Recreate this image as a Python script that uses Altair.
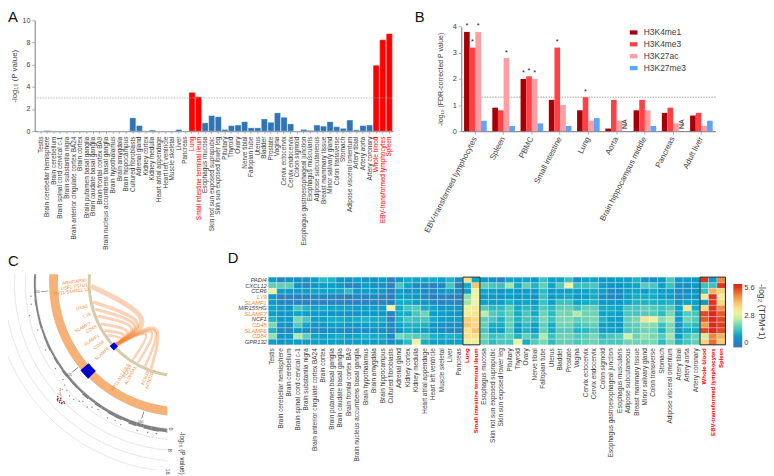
import math
import altair as alt
import pandas as pd

FONT = "Liberation Sans"
INK = "#3c3c3c"

tissues = ["Testis", "Brain cerebellar hemisphere", "Brain cerebellum", "Brain spinal cord cervical c-1",
           "Brain substantia nigra", "Brain anterior cingulate cortex BA24", "Brain cortex",
           "Brain putamen basal ganglia", "Brain caudate basal ganglia", "Brain frontal cortex BA9",
           "Brain nucleus accumbens basal ganglia", "Brain hypothalamus", "Brain amygdala", "Brain hippocampus",
           "Cultured fibroblasts", "Adrenal gland", "Kidney cortex", "Kidney medulla", "Heart atrial appendage",
           "Heart left ventricle", "Muscle skeletal", "Liver", "Pancreas", "Lung", "Small intestine terminal ileum",
           "Esophagus mucosa", "Skin not sun exposed suprapubic", "Skin sun exposed lower leg", "Pituitary", "Thyroid",
           "Ovary", "Nerve tibial", "Fallopian tube", "Uterus", "Bladder", "Prostate", "Vagina", "Cervix ectocervix",
           "Cervix endocervix", "Colon sigmoid", "Esophagus gastroesophageal junction", "Esophagus muscularis",
           "Adipose subcutaneous", "Breast mammary tissue", "Minor salivary gland", "Colon transverse", "Stomach",
           "Adipose visceral omentum", "Artery tibial", "Artery aorta", "Artery coronary", "Whole blood",
           "EBV-transformed lymphocytes", "Spleen"]
pvals = [0.0, 0.05, 0.02, 0.02, 0.02, 0.02, 0.02, 0.02, 0.02, 0.02, 0.02, 0.02, 0.02, 0.02,
         1.2, 0.5, 0.03, 0.1, 0.02, 0.02, 0.02, 0.15, 0.02, 3.5, 3.1,
         0.75, 1.4, 1.3, 0.15, 0.5, 0.55, 0.85, 0.3, 0.3, 1.1, 0.8, 1.65, 1.25, 0.65, 0.02, 0.15, 0.07,
         0.55, 0.45, 0.85, 0.4, 0.25, 1.0, 0.12, 0.5, 0.55, 5.95, 8.25, 8.8]
red_tissues = ["Lung", "Small intestine terminal ileum", "Whole blood", "EBV-transformed lymphocytes", "Spleen"]

b_groups = ["EBV-transformed lymphocytes", "Spleen", "PBMC", "Small intestine", "Lung", "Aorta",
            "Brain hippocampus middle", "Pancreas", "Adult liver"]
b_marks = ["H3K4me1", "H3K4me3", "H3K27ac", "H3K27me3"]
b_colors = ["#A50008", "#FF4045", "#FF9EA2", "#5AA5FF"]
b_me1 = [3.8, 0.9, 2.0, 1.2, 0.8, 0.1, 0.8, 0.7, 0.6]
b_me3 = [3.2, 0.8, 2.1, 3.2, 1.3, 1.2, 1.2, 0.9, 0.7]
b_ac = [3.8, 2.8, 2.0, 1.0, 0.4, 0.4, 0.8, 0.3, 0.2]
b_me27 = [0.4, 0.2, 0.3, 0.2, 0.5, None, 0.2, None, 0.4]
b_sig = [("EBV-transformed lymphocytes", "H3K4me1"), ("EBV-transformed lymphocytes", "H3K4me3"),
         ("EBV-transformed lymphocytes", "H3K27ac"), ("Spleen", "H3K27ac"), ("PBMC", "H3K4me1"),
         ("PBMC", "H3K4me3"), ("PBMC", "H3K27ac"), ("Small intestine", "H3K4me3"), ("Lung", "H3K4me3")]

genes = ["PADI4", "CXCL12", "CCR6", "LY9", "SLAMF1", "MIR155HG", "SLAMF7", "NCF1", "CD48", "SLAMF6", "CD84", "GPR132"]
orange_genes = ["LY9", "SLAMF1", "SLAMF7", "CD48", "SLAMF6", "CD84"]
h_padi4 = [1.0, .6, .8, .7, .8, 1.0, 1.4, 1.3, .8, .8, 1.0, .8, .8, 1.0, .5, .9, 1.2, 1.1, 1.1, 1.2, 1.0, 1.3, .8, 3.5, 1.1,
           .9, .8, .5, 1.1, 1.0, 1.1, .9, 1.5, 1.0, 1.1, 1.5, .7, 1.1, 1.1, .9, .9, 1.0, 1.0, 1.3, .8, .7, .9, 1.6, .9, 1.0, .9, 5.4, .9, 4.6]
h_cxcl12 = [1.8, 1.8, 1.8, .8, .6, .9, 1.0, 1.0, .9, .6, .6, 1.0, .8, .8, .5, 1.6, 1.1, .7, .6, .5, .6, 1.6, .5, 1.2, 3.9,
            1.8, 1.6, 1.5, 2.3, 1.2, 1.8, 1.3, 1.8, 1.1, 1.7, 2.9, 1.5, 1.5, 1.6, 1.0, .8, .8, 1.0, 1.1, 1.7, 1.6, 1.0, 1.5, .8, .7, .9, 1.5, 1.5, 5.4]
h_ccr6 = [2.9, 1.0, .9, 1.0, 1.0, 1.1, 1.1, 1.1, 1.1, 1.4, .9, 1.0, 1.0, .9, .5, 1.0, .8, .9, .7, .6, .9, 1.0, .7, 1.0, 2.9,
          1.1, 1.0, .8, 1.0, .9, 1.0, .9, 1.4, .9, 1.0, 1.0, 1.0, 1.1, 1.2, 1.0, .7, .7, 1.0, 1.1, .9, 1.2, 1.0, 1.0, .7, .7, .8, 1.5, 4.2, 3.7]
h_ly9 = [.9, .5, .5, .5, .5, .6, .6, .5, .5, .4, .6, .5, .6, .5, .4, 1.0, 1.0, .9, .6, .4, .5, .5, .5, 2.2, 2.9,
         .9, .9, .9, 1.0, .9, 1.0, .8, 1.5, .9, 1.1, 1.2, .9, 1.0, 1.2, .8, .6, .6, 1.0, 1.2, 1.2, 1.2, 1.0, 1.0, .6, .8, .9, 3.2, 5.4, 3.0]
h_slamf1 = [.9, .5, .5, .5, .5, .5, .5, .5, .5, .5, .5, .5, .5, .5, .4, 1.2, 1.2, 1.0, .8, .6, .5, .6, .5, 2.3, 2.9,
            1.0, 1.0, 1.0, 1.3, 1.0, 1.1, .9, 1.5, 1.0, 1.5, 1.5, 1.1, 1.2, 1.3, .9, .9, .9, 1.1, 1.3, 1.3, 1.3, 1.2, 1.3, .8, 1.1, 1.0, .9, 5.4, 3.6]
h_mir155 = [1.1, 1.0, .9, 1.6, 1.3, 1.1, 1.2, 1.1, 1.1, 1.1, 1.0, 1.0, 1.0, 1.0, 2.9, 1.2, 1.6, 1.7, 1.2, 1.1, .9, 1.0, .9, 3.0, 3.2,
            1.7, 1.4, 1.4, 1.8, 1.2, 1.4, 1.2, 1.7, 1.4, 1.8, 1.8, 1.5, 1.8, 1.8, 1.2, 1.2, 1.1, 1.6, 1.6, 1.8, 1.7, 1.5, 1.7, 1.1, 3.3, 1.2, 3.6, 5.4, 4.5]
h_slamf7 = [1.0, .8, .8, 1.1, 1.0, .9, .9, .8, .8, .8, .8, .9, .9, .9, .5, 1.2, 1.2, 1.6, 1.9, 1.0, 1.0, .9, .8, 3.0, 3.3,
            2.5, 1.7, 1.5, 1.8, 1.2, 1.6, 1.2, 1.9, 1.4, 2.0, 1.9, 2.4, 1.9, 1.9, 1.1, 1.1, 1.0, 1.6, 1.6, 1.7, 1.7, 1.4, 2.0, 1.0, 1.7, 1.6, 5.2, 5.5, 5.0]
h_ncf1 = [1.3, .9, .9, 2.0, 1.6, 1.0, 1.0, 1.2, 1.2, 1.1, 1.2, 1.3, 1.2, 1.2, .5, 1.3, 1.6, 1.5, 1.6, 1.2, 1.0, 1.0, 1.0, 3.8, 3.6,
          1.8, 1.6, 1.3, 1.8, 1.3, 1.6, 1.4, 2.0, 1.5, 2.0, 2.0, 1.8, 1.9, 2.0, 1.3, 1.0, 1.0, 1.8, 2.0, 3.4, 3.0, 2.1, 2.4, 1.0, 1.9, 1.7, 5.0, 5.5, 5.2]
h_cd48 = [2.0, .8, .8, 1.7, 1.1, .8, .9, 1.0, 1.0, .9, .9, 1.0, 1.0, 1.0, .6, 1.1, 1.3, 1.3, 1.3, .9, .8, .7, .7, 3.9, 3.6,
          1.8, 1.2, 1.2, 1.8, 1.0, 1.4, 1.0, 1.8, 1.2, 1.9, 1.9, 1.5, 1.7, 1.8, 1.0, 1.0, .9, 1.7, 1.8, 2.1, 2.1, 1.5, 2.0, .9, 1.5, 1.4, 4.4, 5.5, 5.3]
h_slamf6 = [1.3, .6, .6, .9, .7, .6, .6, .7, .7, .6, .7, .7, .7, .7, .5, .8, 1.2, 1.1, 1.0, .8, .7, .6, .6, 3.4, 3.9,
            1.6, 1.1, 1.0, 1.7, .9, 1.3, .9, 1.8, 1.2, 1.7, 1.7, 1.3, 1.4, 1.6, 1.0, 1.0, .9, 1.6, 1.7, 1.9, 1.9, 1.3, 2.0, .9, 1.2, 1.2, 5.2, 5.5, 5.2]
h_cd84 = [2.2, .9, .9, 2.4, 1.8, 1.1, 1.0, 1.1, 1.2, 1.0, 1.1, 1.3, 1.2, 1.2, .7, 2.0, 1.8, 1.7, 1.6, 1.3, 1.2, 1.3, 1.2, 3.5, 3.4,
          1.9, 1.5, 1.6, 1.8, 1.3, 1.8, 1.4, 2.4, 1.5, 1.9, 1.9, 1.7, 1.8, 2.0, 1.4, 1.6, 1.7, 2.6, 1.9, 2.2, 2.0, 1.7, 2.3, 1.0, 1.6, 1.9, 2.6, 4.6, 4.2]
h_gpr132 = [1.0, .8, .9, 1.0, 1.0, 1.0, 1.0, 1.0, 1.0, 1.0, 1.0, 1.0, 1.0, 1.0, .7, 1.0, 1.4, 2.9, 1.2, 1.0, 1.0, 1.0, 1.0, 3.0, 3.0,
            1.8, 1.4, 1.6, 1.6, 2.9, 1.2, 1.7, 2.0, 1.4, 1.8, 1.8, 1.6, 1.8, 1.9, 1.6, 1.6, 1.6, 1.9, 1.9, 1.9, 2.0, 1.4, 2.0, 1.3, 1.6, 1.8, 3.7, 4.8, 3.8]
heat_rows = [h_padi4, h_cxcl12, h_ccr6, h_ly9, h_slamf1, h_mir155, h_slamf7, h_ncf1, h_cd48, h_slamf6, h_cd84, h_gpr132]
heat_stops = [0, 0.5, 1.0, 1.5, 2.0, 2.8, 3.5, 4.2, 4.9, 5.6]
heat_colors = ["#3473B8", "#2A82C0", "#0E9FC6", "#3CC0C0", "#7BD6B2", "#EBF6A6", "#FBDF8B", "#F3B25C", "#E8622C", "#D7191C"]
box_start = [23, 51]
box_end = [25, 54]

# panel C: polar positions in degrees clockwise from twelve o'clock, radii in pixels
band_theta = list(range(180, 282, 3))
band_height = [1.2, 1.5, 1.3, 1.5, 1.4, 1.2, 1.5, 1.1, 1.3, 1.2, 1.0, 1.1, .9, 1.2, .9, 1.0, .9, 1.0, .8, .9,
               .7, .9, .8, .7, .8, .7, .7, .8, .7, .7, .7, .7, .7, .7]
dot_theta = [189.7, 193, 197, 203.4, 206, 209, 213.6, 216, 217.5, 220, 221, 223, 225, 227, 229, 231, 236, 244, 252, 258, 262, 265]
dot_value = [2.3, 2.5, 2.8, 3.0, 2.4, 2.9, 2.1, 2.6, 3.6, 3.0, 3.8, 4.7, 4.9, 4.2, 3.4, 2.6, 2.4, 2.2, 2.0, 3.6, 2.2, 2.0]
red_theta = [224.5, 225.2, 225.7, 226.2, 226.6, 227.1, 227.6, 225.0, 226.0, 227.0, 224.9, 226.4]
red_value = [8.2, 8.6, 9.3, 8.9, 9.4, 8.7, 8.3, 9.0, 8.4, 9.1, 7.9, 8.0]
tan_theta = [226.6, 227.3, 228, 228.6, 229, 227.9, 228.4]
tan_value = [7.6, 7.0, 6.6, 6.1, 5.6, 7.3, 5.2]
grid_values = [0, 4, 8, 12, 16]
axis_text = ["0", "8", "16"]
axis_values = [0, 8, 16]
ring_label = ["150", "155", "160"]
ring_theta = [266.6, 231.0, 196.6]

gene_text = ["ARHGAP30", "USF1  TSTD1", "RP11-544M22.13", "ITLN1", "LY9", "SLAMF7", "CD48", "SLAMF1", "CD84", "SLAMF6",
             "RP11-312J18.5", "PEA15", "ALDH9A1", "KCNJ9", "KCNJ10"]
gene_theta = [270.5, 267.9, 265.4, 256.1, 251.0, 245.8, 242.9, 237.5, 233.1, 228.4, 212.9, 211.7, 209.0, 201.0, 198.4]
gene_radius = [109, 109, 112, 104, 101.5, 110, 103, 108, 105, 108, 114, 105, 107, 103, 104]
gene_angle = [352, 352, 352, 343, 338, 333, 330, 327, 322, 318, 302, 300, 300, 292, 290]

link_end = [268, 258, 253.4, 248.8, 243.4, 238.6, 235, 212.8, 209, 204, 200]
link_ctrl_theta = [210.7, 216.6, 219.7, 222.2, 224.4, 225.6, 225.5, 211.8, 206.6, 204.6, 206.6]
link_ctrl_radius = [43, 48.6, 53, 58, 65.8, 73, 78.5, 49.4, 42.5, 38.5, 35.8]
link_width = [5.0, 3.5, 3.0, 3.0, 3.0, 3.0, 2.5, 2.5, 2.5, 2.5, 3.0]
TARGET_THETA, TARGET_R = 227.2, 93

C_W, C_H, CX, CY = 161, 198, 176, 9
A_LEFT, A_W = 27, 389


def letter(text, x, y):
    return alt.Chart(pd.DataFrame({"t": [text]})).mark_text(
        font=FONT, fontSize=15, align="left", baseline="top", color="#111"
    ).encode(text="t:N", x=alt.value(x), y=alt.value(y))


red_json = str(red_tissues)
red_test = f"indexof({red_json}, datum.value) >= 0"
label_red = {"condition": {"test": red_test, "value": "#FF0000"}, "value": INK}

# ---------- A
A_TITLE = "-log₁₀ (P value)"
df_a = pd.DataFrame({"tissue": tissues, "p": pvals})
df_a["hl"] = ["red" if t in red_tissues else "blue" for t in tissues]
axis_y_a = alt.Axis(values=[0, 2, 4, 6, 8, 10], grid=False, labelFont=FONT, labelFontSize=7, labelColor=INK,
                    labelOverlap=False, labelSeparation=0, offset=-A_LEFT,
                    domainColor="#8f8f8f", domainWidth=1.2, tickColor="#777", tickSize=3, tickWidth=0.6,
                    titleFont=FONT, titleFontSize=8, titleFontWeight="normal", titleColor=INK, titlePadding=4)
bars_a = alt.Chart(df_a).mark_bar(stroke="#ffffff", strokeWidth=0.3).encode(
    x=alt.X("tissue:N", sort=tissues, title=None,
            scale=alt.Scale(range=[A_LEFT, A_W], paddingInner=0.08, paddingOuter=0.27, align=0.83),
            axis=alt.Axis(labelAngle=-90, labelFont=FONT, labelFontSize=6.5, labelColor=label_red, labelLimit=200,
                          labelOverlap=False, domainColor="#8f8f8f", domainWidth=1.2, tickColor="#777", tickSize=2,
                          tickWidth=0.6, labelPadding=3)),
    y=alt.Y("p:Q", scale=alt.Scale(domain=[0, 10], nice=False), title=A_TITLE, axis=axis_y_a),
    color=alt.Color("hl:N", scale=alt.Scale(domain=["blue", "red"], range=["#2F74B5", "#FF0000"]), legend=None),
)
rule_a = alt.Chart(pd.DataFrame({"t": [3]})).mark_rule(color="#9a9a9a", strokeDash=[1.5, 1.2], strokeWidth=0.7).encode(
    y=alt.Y("t:Q", scale=alt.Scale(domain=[0, 10], nice=False), title=A_TITLE, axis=axis_y_a),
    x=alt.value(A_LEFT), x2=alt.value(A_W))
panel_a = alt.layer(bars_a, rule_a, letter("A", 0, -10)).properties(width=A_W, height=112)

# ---------- B
B_TITLE = "-log₁₀ (FDR-corrected P value)"
rows_b = []
for g, a, b, c, d in zip(b_groups, b_me1, b_me3, b_ac, b_me27):
    for m, v in zip(b_marks, (a, b, c, d)):
        rows_b.append({"group": g, "mark": m, "v": v, "sig": (g, m) in b_sig, "na": v is None})
df_b = pd.DataFrame(rows_b)
x_b = alt.X("group:N", sort=b_groups, title=None,
            scale=alt.Scale(paddingInner=0.2, paddingOuter=0.1),
            axis=alt.Axis(labelAngle=-63, labelFont=FONT, labelFontSize=8, labelColor=INK, labelLimit=250,
                          labelOverlap=False, domainColor="#8f8f8f", domainWidth=1.2, tickColor="#777", tickSize=3,
                          tickWidth=0.6, labelPadding=3))
off_b = alt.XOffset("mark:N", sort=b_marks)
y_scale_b = alt.Scale(domain=[0, 4], range=[112, 6.4], nice=False)
axis_y_b = alt.Axis(values=[0, 1, 2, 3, 4], grid=False, labelFont=FONT, labelFontSize=7.5, labelColor=INK,
                    labelOverlap=False, labelSeparation=0,
                    domainColor="#8f8f8f", domainWidth=1.2, tickColor="#777", tickSize=3, tickWidth=0.6,
                    titleFont=FONT, titleFontSize=7, titleFontWeight="normal", titleColor=INK, titlePadding=9)
rule_b = alt.Chart(pd.DataFrame({"t": [1.3]})).mark_rule(color="#777", strokeDash=[1.5, 1.2], strokeWidth=0.7).encode(
    y=alt.Y("t:Q", scale=y_scale_b, title=B_TITLE, axis=axis_y_b))
bars_b = alt.Chart(df_b[~df_b["na"]]).mark_bar().encode(
    x=x_b, xOffset=off_b,
    y=alt.Y("v:Q", scale=y_scale_b, title=B_TITLE, axis=axis_y_b),
    color=alt.Color("mark:N", sort=b_marks, scale=alt.Scale(domain=b_marks, range=b_colors),
                    legend=alt.Legend(title=None, orient="none", legendX=170, legendY=8, symbolType="M-1,-0.55H1V0.55H-1Z",
                                      symbolSize=60, symbolStrokeWidth=0, labelFont=FONT, labelFontSize=8.5, labelColor=INK,
                                      rowPadding=3, labelOffset=6)),
)
stars_b = alt.Chart(df_b[df_b["sig"]]).mark_text(text="*", font=FONT, fontSize=7.5, color="#222", dy=-1.5, baseline="bottom").encode(
    x=x_b, xOffset=off_b, y=alt.Y("v:Q", scale=y_scale_b, title=B_TITLE, axis=axis_y_b))
na_df = df_b[df_b["na"]].assign(pos=0.27, label="NA")
na_b = alt.Chart(na_df).mark_text(font=FONT, fontSize=7, angle=270, color="#222").encode(
    x=x_b, xOffset=off_b, y=alt.Y("pos:Q", scale=y_scale_b, title=B_TITLE, axis=axis_y_b), text="label:N")
panel_b = alt.layer(rule_b, bars_b, stars_b, na_b, letter("B", -47, -10)).properties(width=257, height=112)

# ---------- C
theta_scale = alt.Scale(domain=[0, 360], range=[0, 2 * math.pi])
px_scale = alt.Scale(type="linear", domain=[0, 200], range=[0, 200])
val_scale = alt.Scale(type="linear", domain=[0, 16], range=[148, 191])
cx, cy = alt.value(CX), alt.value(CY)


def arc_layer(df, color, scale, **mark):
    return alt.Chart(df).mark_arc(clip=True, color=color, **mark).encode(
        x=cx, y=cy,
        theta=alt.Theta("t0:Q", scale=theta_scale, stack=None), theta2="t1:Q",
        radius=alt.Radius("r0:Q", scale=scale), radius2="r1:Q")


grid_df = pd.DataFrame({"t0": [170] * 5, "t1": [290] * 5, "r0": grid_values, "r1": grid_values})
grid_c = alt.Chart(grid_df).mark_arc(clip=True, fillOpacity=0, stroke="#e2e2e2", strokeWidth=0.5).encode(
    x=cx, y=cy,
    theta=alt.Theta("t0:Q", scale=theta_scale, stack=None), theta2="t1:Q",
    radius=alt.Radius("r0:Q", scale=val_scale), radius2="r1:Q")
ring_o = arc_layer(pd.DataFrame({"t0": [170], "t1": [290], "r0": [125.5], "r1": [134.5]}), "#F4B278", px_scale)
ring_i = arc_layer(pd.DataFrame({"t0": [170], "t1": [290], "r0": [92.5], "r1": [95.5]}), "#D8CBA8", px_scale)
blue_o = arc_layer(pd.DataFrame({"t0": [224.5], "t1": [229.4], "r0": [124.5], "r1": [135.5]}), "#0000CC", px_scale)
blue_i = arc_layer(pd.DataFrame({"t0": [225.4], "t1": [229.0], "r0": [91], "r1": [97]}), "#0000CC", px_scale)
band_df = pd.DataFrame({"t0": band_theta, "t1": [t + 3 for t in band_theta], "r0": [0] * len(band_theta), "r1": band_height})
band_c = arc_layer(band_df, "#6a6a6a", val_scale, opacity=0.85)
tick_df = pd.DataFrame({"t0": [t - 0.12 for t in ring_theta], "t1": [t + 0.12 for t in ring_theta],
                        "r0": [135.5] * 3, "r1": [143] * 3})
tick_c = arc_layer(tick_df, "#555555", px_scale)


def dots(theta, value, color):
    return arc_layer(pd.DataFrame({"t0": [t - 0.25 for t in theta], "t1": [t + 0.25 for t in theta],
                                   "r0": [v - 0.22 for v in value], "r1": [v + 0.22 for v in value]}),
                     color, val_scale)


dots_gray = dots(dot_theta, dot_value, "#8a8a8a")
dots_tan = dots(tan_theta, tan_value, "#C9A27A")
dots_red = dots(red_theta, red_value, "#A81E2C")

rows_l = []
for i, (e, ct, cr, w) in enumerate(zip(link_end, link_ctrl_theta, link_ctrl_radius, link_width)):
    for s, (t, r) in enumerate([(e, 92), (ct, cr), (TARGET_THETA, TARGET_R)]):
        a = math.radians(t)
        rows_l.append({"id": i, "s": s, "w": w,
                       "x": CX + r * math.sin(a), "y": CY - r * math.cos(a)})
df_l = pd.DataFrame(rows_l)
links_c = alt.Chart(df_l).mark_line(interpolate="basis", color="#F58A3C", opacity=0.38).encode(
    x=alt.X("x:Q", scale=alt.Scale(domain=[0, C_W], range=[0, C_W]), axis=None),
    y=alt.Y("y:Q", scale=alt.Scale(domain=[0, C_H], range=[0, C_H]), axis=None),
    detail="id:N", order="s:Q", strokeWidth=alt.StrokeWidth("w:Q", scale=None))

gene_df = pd.DataFrame({"g": gene_text, "t": gene_theta, "r": gene_radius, "a": gene_angle})
gene_c = alt.Chart(gene_df).mark_text(font=FONT, fontSize=4.6, color="#F58A3C").encode(
    x=cx, y=cy, theta=alt.Theta("t:Q", scale=theta_scale, stack=None),
    radius=alt.Radius("r:Q", scale=px_scale), text="g:N", angle=alt.Angle("a:Q", scale=None))
ring_lab = alt.Chart(pd.DataFrame({"g": ring_label, "t": ring_theta, "r": [147] * 3})).mark_text(
    font=FONT, fontSize=3.5, color="#555").encode(
    x=cx, y=cy, theta=alt.Theta("t:Q", scale=theta_scale, stack=None),
    radius=alt.Radius("r:Q", scale=px_scale), text="g:N")
axis_c = alt.Chart(pd.DataFrame({"g": axis_text, "v": axis_values, "t": [184.3] * 3})).mark_text(
    font=FONT, fontSize=5.5, angle=90, color=INK).encode(
    x=cx, y=cy, theta=alt.Theta("t:Q", scale=theta_scale, stack=None),
    radius=alt.Radius("v:Q", scale=val_scale), text="g:N")
title_c = alt.Chart(pd.DataFrame({"g": ["-log₁₀ (P value)"]})).mark_text(
    font=FONT, fontSize=6.5, angle=90, color=INK).encode(x=alt.value(176), y=alt.value(181), text="g:N")

panel_c = alt.layer(grid_c, band_c, dots_gray, dots_tan, dots_red, ring_o, blue_o, tick_c, ring_lab, links_c, ring_i, blue_i,
                    gene_c, axis_c, title_c, letter("C", 0, -20)).resolve_scale(radius="independent").properties(width=C_W, height=C_H)

# ---------- D
rows_h = []
for g, row in zip(genes, heat_rows):
    for t, v in zip(tissues, row):
        rows_h.append({"gene": g, "tissue": t, "v": v})
df_h = pd.DataFrame(rows_h)
orange_json = str(orange_genes)
heat = alt.Chart(df_h).mark_rect(stroke="#ffffff", strokeWidth=0.5, strokeOpacity=0.55).encode(
    x=alt.X("tissue:N", sort=tissues, title=None, scale=alt.Scale(paddingInner=0, paddingOuter=0),
            axis=alt.Axis(labelAngle=-90, labelFont=FONT, labelColor=label_red, labelLimit=200,
                          labelFontSize={"condition": {"test": red_test, "value": 6.1}, "value": 6.5},
                          labelFontWeight={"condition": {"test": red_test, "value": "bold"}, "value": "normal"},
                          labelOverlap=False, domain=False, ticks=False, labelPadding=3)),
    y=alt.Y("gene:N", sort=genes, title=None, scale=alt.Scale(range=[3, 71.4], paddingInner=0, paddingOuter=0),
            axis=alt.Axis(labelFont=FONT, labelFontSize=5.8, labelFontStyle="italic", labelLimit=100,
                          labelColor={"condition": {"test": f"indexof({orange_json}, datum.value) >= 0", "value": "#F58A3C"}, "value": INK},
                          labelOverlap=False, domain=False, ticks=False, labelPadding=2)),
    color=alt.Color("v:Q", scale=alt.Scale(domain=heat_stops, range=heat_colors),
                    legend=alt.Legend(title=None, orient="none", legendX=470, legendY=10, values=[0, 2.8, 5.6],
                                      gradientLength=64, gradientThickness=9, labelFont=FONT, labelFontSize=7.5, labelColor=INK,
                                      labelExpr="datum.value == 0 ? '0' : format(datum.value, '.1f')", gradientStrokeWidth=0)),
)
box_df = pd.DataFrame({"a": box_start, "b": box_end, "t": [0, 0], "u": [12, 12]})
box = alt.Chart(box_df).mark_rect(fillOpacity=0, stroke="#222222", strokeWidth=1).encode(
    x=alt.X("a:Q", scale=alt.Scale(domain=[0, 54]), axis=None), x2="b:Q",
    y=alt.Y("t:Q", scale=alt.Scale(domain=[12, 0], range=[71.4, 3]), axis=None), y2="u:Q")
title_d = alt.Chart(pd.DataFrame({"g": ["-log₂ (TPM+1)"]})).mark_text(
    font=FONT, fontSize=9, angle=90, color=INK).encode(x=alt.value(499), y=alt.value(38), text="g:N")
panel_d = alt.layer(heat, box, title_d, letter("D", -41, -23)).resolve_scale(x="independent", y="independent").properties(width=462, height=71.4)

chart = alt.vconcat(
    alt.hconcat(panel_a, panel_b, spacing=21).resolve_scale(color="independent"),
    alt.hconcat(panel_c, panel_d, spacing=43).resolve_scale(color="independent"),
    spacing=1.5,
).resolve_scale(color="independent").properties(padding=0, background="white").configure_view(stroke=None)

chart.save("out.html", embed_options={"renderer": "svg", "actions": False})
